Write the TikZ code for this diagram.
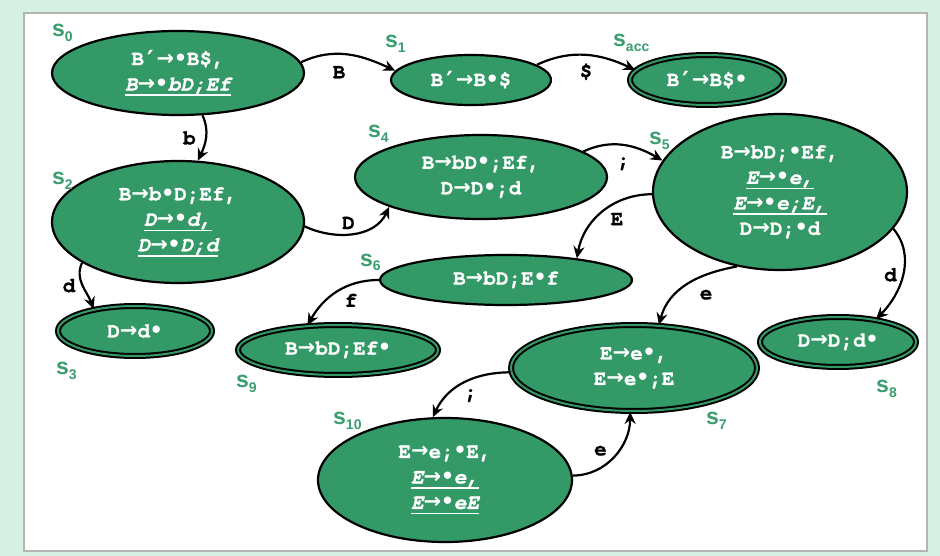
\documentclass[tikz,border=0pt]{standalone}
\usepackage{fontspec}
\setsansfont{Liberation Sans}
\setmonofont[BoldFeatures={FakeBold=1.2}, BoldItalicFeatures={FakeBold=1.2}]{TeX Gyre Cursor}
\newfontfamily\symfont{DejaVu Sans}
\usetikzlibrary{shapes.geometric,arrows.meta}

\definecolor{stategreen}{HTML}{339966}
\definecolor{namegreen}{HTML}{3A9E6E}
\definecolor{outerbg}{HTML}{D6F1E4}
\definecolor{framegray}{HTML}{B4B4B4}

% production arrow, item dot and prime
\newcommand{\pto}{{\symfont\bfseries\upshape →}}
\newcommand{\dotm}{\makebox[0.6em]{\symfont\bfseries •}}
\newcommand{\prm}{\makebox[0.6em]{\raisebox{-3pt}{\symfont\bfseries\fontsize{25}{25}\selectfont ′}}}
% underlined italic item
\newcommand{\uit}[1]{\setbox0\hbox{\itshape #1}\rlap{\rule[-5.5pt]{\wd0}{1.8pt}}\box0}
% state name with subscript
\newcommand{\sname}[1]{{\fontsize{23}{23}\selectfont s}\raisebox{-5pt}{\fontsize{14}{14}\selectfont #1}}

\begin{document}
\begin{tikzpicture}[x=1pt, y=1pt,
  stnode/.style={draw, ellipse, line width=2.2pt, fill=stategreen, text=white,
    inner sep=0pt, align=center, font=\ttfamily\bfseries\fontsize{21}{25.5}\selectfont},
  accnode/.style={stnode, double=stategreen, double distance=2pt, line width=2pt},
  slabel/.style={anchor=base west, inner sep=0pt, text=namegreen, font=\sffamily\bfseries},
  lbl/.style={inner sep=1pt, font=\ttfamily\bfseries\fontsize{21}{21}\selectfont},
  trans/.style={-{Stealth[length=12pt,width=11pt,inset=4pt]}, line width=2.2pt}]
  \useasboundingbox (0,0) rectangle (940,-556);
  \fill[outerbg] (0,0) rectangle (940,-556);
  \draw[framegray, fill=white, line width=2pt] (24,-13) rectangle (927,-551);

  % Define nodes
  \node[stnode, minimum width=252, minimum height=84] (s0) at (178,-73)
    {B\prm\pto\dotm B\$,\\\uit{B\pto\dotm bD;Ef}};
  \node[stnode, minimum width=160, minimum height=50] (s1) at (471,-80) {B\prm\pto B\dotm\$};
  \node[accnode, minimum width=154, minimum height=50] (sacc) at (707,-80) {B\prm\pto B\$\dotm};
  \node[stnode, minimum width=252, minimum height=122] (s2) at (178,-222)
    {B\pto b\dotm D;Ef,\\\uit{D\pto\dotm d,}\\\uit{D\pto\dotm D;d}};
  \node[accnode, minimum width=154, minimum height=50] (s3) at (135,-331) {D\pto d\dotm};
  \node[stnode, minimum width=252, minimum height=84] (s4) at (481,-177)
    {B\pto bD\dotm;Ef,\\D\pto D\dotm;d};
  \node[stnode, minimum width=254, minimum height=156] (s5) at (780,-192)
    {B\pto bD;\dotm Ef,\\\uit{E\pto\dotm e,}\\\uit{E\pto\dotm e;E,}\\D\pto D;\dotm d};
  \node[stnode, minimum width=252, minimum height=50] (s6) at (506,-280) {B\pto bD;E\dotm f};
  \node[accnode, minimum width=246, minimum height=86] (s7) at (634,-368)
    {E\pto e\dotm,\\E\pto e\dotm;E};
  \node[accnode, minimum width=156, minimum height=50] (s8) at (838,-342) {D\pto D;d\dotm};
  \node[accnode, minimum width=200, minimum height=50] (s9) at (338,-350) {B\pto bD;Ef\dotm};
  \node[stnode, minimum width=254, minimum height=124] (s10) at (445,-480)
    {E\pto e;\dotm E,\\\uit{E\pto\dotm e,}\\\uit{E\pto\dotm eE}};

  % State names
  \node[slabel] (n0) at (52,-37) {\sname{0}};
  \node[slabel] (n1) at (385,-48) {\sname{1}};
  \node[slabel] (nacc) at (613,-47) {\sname{acc}};
  \node[slabel] (n2) at (52,-185) {\sname{2}};
  \node[slabel] (n3) at (56,-374) {\sname{3}};
  \node[slabel] (n4) at (368,-138) {\sname{4}};
  \node[slabel] (n5) at (649,-145) {\sname{5}};
  \node[slabel] (n6) at (360,-266) {\sname{6}};
  \node[slabel] (n7) at (706,-424) {\sname{7}};
  \node[slabel] (n8) at (876,-392) {\sname{8}};
  \node[slabel] (n9) at (236,-387) {\sname{9}};
  \node[slabel] (n10) at (333,-424) {\sname{10}};

  % Draw edges
  \draw[trans] (s0.5) to[out=25,in=155] node[lbl, pos=.4, below=10pt] {B} (s1.173);
  \draw[trans] (s1.13) to[out=25,in=155] node[lbl, pos=.5, below=6pt] {\$} (sacc.172);
  \draw[trans] (s0.-60) to[out=-65,in=65] node[lbl, pos=.5, left=8pt] {b} (s2.72);
  \draw[trans] (s2.-2) to[out=-25,in=-115] node[lbl, pos=.45, above=3pt] {D} (s4.198);
  \draw[trans] (s4.14) to[out=25,in=150] node[lbl, pos=.5, below=10pt] {;} (s5.165);
  \draw[trans] (s5.181) to[out=180,in=80] node[lbl, pos=.45, below right=2pt] {E} (s6.17);
  \draw[trans] (s2.203) to[out=-115,in=110] node[lbl, pos=.5, left=5pt] {d} (s3.152);
  \draw[trans] (s6.west) to[out=180,in=60] node[lbl, pos=.45, below right=2pt] {f} (s9.141);
  \draw[trans] (s5.-120) to[out=190,in=75] node[lbl, pos=.45, below right=6pt] {e} (s7.60);
  \draw[trans] (s5.-18) to[out=-50,in=45] node[lbl, pos=.5, left=4pt] {d} (s8.31);
  \draw[trans] (s7.182) to[out=180,in=65] node[lbl, pos=.55, below right=2pt] {;} (s10.101);
  \draw[trans] (s10.2) to[out=0,in=-90] node[lbl, pos=.45, above left=2pt] {e} (s7.265);
\end{tikzpicture}
\end{document}
